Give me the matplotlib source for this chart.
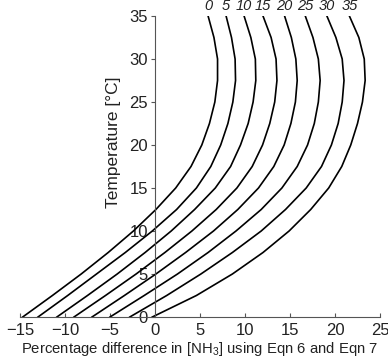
import numpy as np
import matplotlib
matplotlib.use("Agg")
import matplotlib.pyplot as plt

plt.rcParams['font.family'] = ['Liberation Sans', 'DejaVu Sans']
plt.rcParams['mathtext.fontset'] = 'custom'
plt.rcParams['mathtext.rm'] = 'Liberation Sans'
plt.rcParams['mathtext.it'] = 'Liberation Sans:italic'

# temperature (degC) at which the curves were read
temps = [0, 2.5, 5, 7.5, 10, 12.5, 15, 17.5, 20, 22.5, 25, 27.5, 30, 32.5, 35]
salinities = [0, 5, 10, 15, 20, 25, 30, 35]

# percentage difference, one list per salinity
s0 = [-14.7, -11.4, -8.2, -5.2, -2.4, 0.1, 2.3, 4.0, 5.2, 6.05, 6.65, 6.95, 6.95, 6.55, 5.9]
s5 = [-13.0, -9.7, -6.5, -3.3, -0.3, 2.4, 4.6, 6.2, 7.3, 8.1, 8.65, 8.95, 8.9, 8.5, 7.9]
s10 = [-10.9, -7.5, -4.2, -1.1, 1.8, 4.4, 6.7, 8.4, 9.5, 10.35, 10.9, 11.2, 11.15, 10.65, 9.9]
s15 = [-9.0, -5.5, -2.1, 1.1, 4.1, 6.8, 9.1, 10.8, 11.95, 12.75, 13.3, 13.55, 13.45, 12.9, 12.0]
s20 = [-7.0, -3.4, 0.1, 3.4, 6.5, 9.2, 11.5, 13.2, 14.35, 15.1, 15.6, 15.8, 15.65, 15.15, 14.4]
s25 = [-5.0, -1.2, 2.5, 5.9, 9.0, 11.8, 14.1, 15.8, 16.95, 17.7, 18.15, 18.35, 18.15, 17.55, 16.7]
s30 = [-2.8, 1.3, 5.1, 8.6, 11.8, 14.5, 16.8, 18.5, 19.6, 20.35, 20.8, 21.0, 20.8, 20.1, 19.1]
s35 = [-0.3, 4.6, 8.6, 12.0, 14.9, 17.3, 19.3, 20.75, 21.75, 22.5, 23.05, 23.35, 23.25, 22.65, 21.6]
curves = [s0, s5, s10, s15, s20, s25, s30, s35]

fig = plt.figure(figsize=(3.88, 3.64), dpi=100)
ax = fig.add_axes([20/388, 1-317/364, 360/388, 301/364])

for s, xs in zip(salinities, curves):
    ax.plot(xs, temps, color='black', lw=1.2, solid_joinstyle='round')
    ax.annotate(str(s), xy=(xs[-1], 35), xytext=(0, 2.5), textcoords='offset points',
                ha='center', va='bottom', style='italic', fontsize=10.5,
                color='#222', annotation_clip=False)

ax.set_xlim(-15, 25)
ax.set_ylim(0, 35)
ax.set_xticks(range(-15, 30, 5))
ax.set_yticks(range(0, 40, 5))

ax.spines['left'].set_position(('data', 0))
ax.spines['top'].set_visible(False)
ax.spines['right'].set_visible(False)
for sp in ('left', 'bottom'):
    ax.spines[sp].set_color('#555')
    ax.spines[sp].set_linewidth(0.8)

ax.tick_params(axis='x', direction='in', length=3, width=0.8, color='#555',
               labelsize=12, labelcolor='#222', pad=4)
ax.tick_params(axis='y', direction='out', length=3, width=0.8, color='#555',
               labelsize=12, labelcolor='#222', pad=2)

ax.set_xlabel(r'Percentage difference in [NH$_3$] using Eqn 6 and Eqn 7',
              fontsize=10.7, color='#222', labelpad=2)
ax.set_ylabel('Temperature [°C]', fontsize=12.5, color='#222')
ax.yaxis.set_label_coords(0.28, 0.58)

fig.savefig('out.png', dpi=100)
